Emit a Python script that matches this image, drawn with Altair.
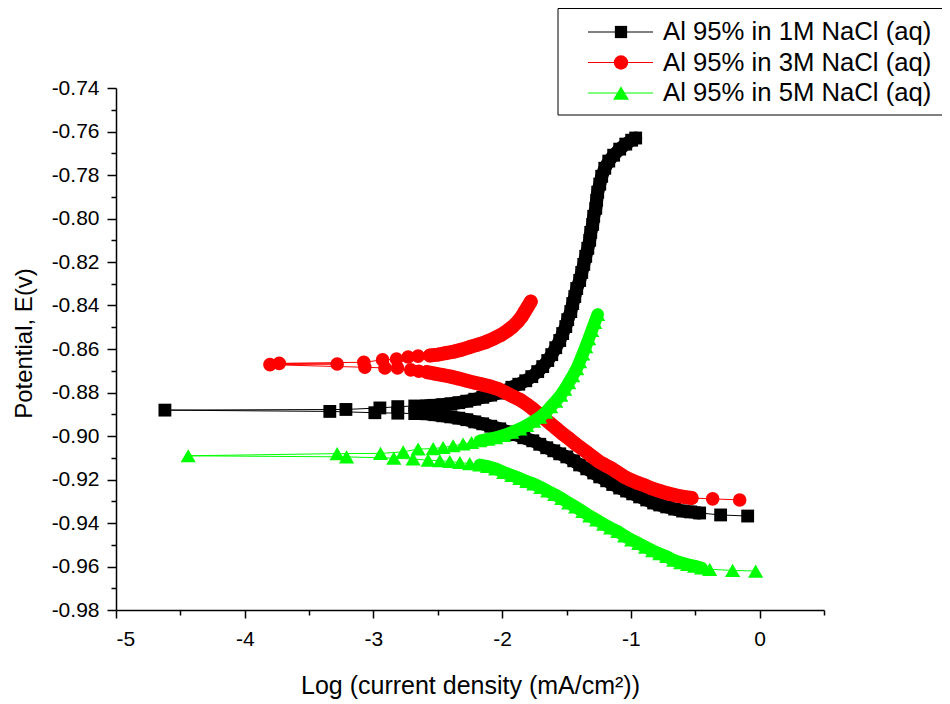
import altair as alt
import pandas as pd

# ---------------- data ----------------
series_names = ["Al 95% in 1M NaCl (aq)", "Al 95% in 3M NaCl (aq)", "Al 95% in 5M NaCl (aq)"]
series_colors = ["#000000", "#ff0000", "#00ff00"]
series_shapes = ["square", "circle", "triangle-up"]

# 1M NaCl : log current density (sweep order) and potential
logi_1M = [-0.093, -0.303, -0.466, -0.536, -0.598, -0.660, -0.722, -0.776, -0.823, -0.877,
           -0.932, -0.986, -1.033, -1.087, -1.141, -1.188, -1.242, -1.289, -1.343, -1.398,
           -1.444, -1.498, -1.553, -1.599, -1.654, -1.708, -1.762, -1.832, -1.894, -1.957,
           -2.019, -2.089, -2.151, -2.213, -2.275, -2.337, -2.399, -2.461, -2.523, -2.585,
           -2.679, -2.811, -2.989, -3.339, -4.620, -3.214, -2.950, -2.811, -2.679,
           -2.585, -2.523, -2.461, -2.399, -2.337, -2.275, -2.213, -2.151, -2.089, -2.034,
           -1.980, -1.925, -1.871, -1.817, -1.770, -1.724, -1.685, -1.646, -1.615, -1.584,
           -1.553, -1.530, -1.506, -1.491, -1.467, -1.452, -1.436, -1.421, -1.398, -1.382,
           -1.366, -1.351, -1.335, -1.320, -1.312, -1.297, -1.289, -1.273, -1.266, -1.258,
           -1.242, -1.227, -1.203, -1.172, -1.134, -1.087, -1.040, -0.994, -0.963]
E_1M = [-0.9368, -0.9363, -0.9354, -0.9349, -0.9345, -0.9336, -0.9326, -0.9317, -0.9308, -0.9294,
        -0.9280, -0.9266, -0.9253, -0.9239, -0.9223, -0.9206, -0.9188, -0.9170, -0.9151, -0.9133,
        -0.9114, -0.9096, -0.9082, -0.9068, -0.9054, -0.9038, -0.9022, -0.9008, -0.8994, -0.8981,
        -0.8967, -0.8955, -0.8944, -0.8935, -0.8925, -0.8918, -0.8912, -0.8907, -0.8902, -0.8898,
        -0.8897, -0.8895, -0.8893, -0.8887, -0.8881, -0.8878, -0.8871, -0.8865, -0.8862,
        -0.8861, -0.8859, -0.8856, -0.8852, -0.8847, -0.8840, -0.8831, -0.8822, -0.8812, -0.8803,
        -0.8792, -0.8776, -0.8762, -0.8746, -0.8727, -0.8704, -0.8681, -0.8653, -0.8626, -0.8594,
        -0.8561, -0.8529, -0.8497, -0.8465, -0.8428, -0.8391, -0.8359, -0.8322, -0.8285, -0.8248,
        -0.8211, -0.8174, -0.8137, -0.8100, -0.8064, -0.8027, -0.7990, -0.7953, -0.7916, -0.7879,
        -0.7842, -0.7806, -0.7769, -0.7736, -0.7709, -0.7681, -0.7658, -0.7640, -0.7630]

# 3M NaCl
logi_3M = [-0.155, -0.365, -0.528, -0.590, -0.652, -0.714, -0.776, -0.839, -0.893, -0.947,
           -1.002, -1.056, -1.110, -1.157, -1.203, -1.250, -1.297, -1.343, -1.390, -1.436,
           -1.483, -1.530, -1.576, -1.623, -1.669, -1.716, -1.762, -1.809, -1.863, -1.918,
           -1.972, -2.026, -2.089, -2.151, -2.213, -2.275, -2.337, -2.399, -2.461, -2.523,
           -2.585, -2.648, -2.710, -2.813, -2.911, -3.067, -3.804, -3.282, -3.732, -3.075,
           -2.929, -2.821, -2.731, -2.653, -2.562, -2.500, -2.438, -2.376, -2.314, -2.252,
           -2.189, -2.127, -2.065, -2.011, -1.964, -1.918, -1.879, -1.848, -1.825, -1.801,
           -1.778]
E_3M = [-0.9294, -0.9289, -0.9285, -0.9280, -0.9273, -0.9264, -0.9253, -0.9241, -0.9227, -0.9216,
        -0.9202, -0.9186, -0.9165, -0.9147, -0.9133, -0.9117, -0.9096, -0.9075, -0.9054, -0.9034,
        -0.9011, -0.8990, -0.8967, -0.8944, -0.8921, -0.8898, -0.8875, -0.8854, -0.8833, -0.8817,
        -0.8801, -0.8785, -0.8773, -0.8764, -0.8755, -0.8746, -0.8736, -0.8727, -0.8720, -0.8713,
        -0.8706, -0.8702, -0.8696, -0.8687, -0.8687, -0.8684, -0.8672, -0.8669, -0.8666, -0.8661,
        -0.8650, -0.8646, -0.8637, -0.8633, -0.8630, -0.8626, -0.8619, -0.8612, -0.8603, -0.8591,
        -0.8580, -0.8568, -0.8552, -0.8536, -0.8518, -0.8497, -0.8474, -0.8451, -0.8428, -0.8405,
        -0.8382]

# 5M NaCl
logi_5M = [-0.031, -0.210, -0.388, -0.450, -0.505, -0.559, -0.613, -0.668, -0.722, -0.776,
           -0.831, -0.885, -0.939, -0.994, -1.048, -1.102, -1.157, -1.211, -1.266, -1.320,
           -1.374, -1.429, -1.483, -1.537, -1.592, -1.646, -1.700, -1.755, -1.809, -1.863,
           -1.925, -1.988, -2.050, -2.112, -2.174, -2.252, -2.329, -2.407, -2.484, -2.575,
           -2.692, -2.842, -3.209, -4.439, -3.282, -2.945, -2.769, -2.653, -2.536, -2.459,
           -2.381, -2.304, -2.238, -2.174, -2.112, -2.050, -1.988, -1.925, -1.863, -1.809,
           -1.755, -1.708, -1.662, -1.623, -1.584, -1.545, -1.514, -1.483, -1.452, -1.421,
           -1.398, -1.374, -1.351, -1.328, -1.304, -1.281, -1.258]
E_5M = [-0.9621, -0.9618, -0.9613, -0.9607, -0.9598, -0.9591, -0.9582, -0.9571, -0.9554, -0.9541,
        -0.9527, -0.9511, -0.9494, -0.9478, -0.9460, -0.9439, -0.9423, -0.9405, -0.9386, -0.9368,
        -0.9347, -0.9326, -0.9308, -0.9287, -0.9269, -0.9253, -0.9236, -0.9220, -0.9209, -0.9195,
        -0.9181, -0.9167, -0.9151, -0.9140, -0.9133, -0.9127, -0.9122, -0.9117, -0.9114, -0.9111,
        -0.9106, -0.9102, -0.9096, -0.9091, -0.9081, -0.9080, -0.9073, -0.9060, -0.9058, -0.9053,
        -0.9045, -0.9037, -0.9030, -0.9022, -0.9015, -0.9008, -0.8997, -0.8983, -0.8967, -0.8951,
        -0.8932, -0.8914, -0.8891, -0.8865, -0.8840, -0.8812, -0.8785, -0.8755, -0.8723, -0.8690,
        -0.8658, -0.8623, -0.8589, -0.8552, -0.8515, -0.8478, -0.8441]

# axis tick positions (major + minor)
x_tick_values = [-5, -4.5, -4, -3.5, -3, -2.5, -2, -1.5, -1, -0.5, 0, 0.5]
y_tick_values = [-0.98, -0.97, -0.96, -0.95, -0.94, -0.93, -0.92, -0.91, -0.90, -0.89,
                 -0.88, -0.87, -0.86, -0.85, -0.84, -0.83, -0.82, -0.81, -0.80, -0.79,
                 -0.78, -0.77, -0.76, -0.75, -0.74]

series_logi = [logi_1M, logi_3M, logi_5M]
series_E = [E_1M, E_3M, E_5M]

# ---------------- chart ----------------
FONT = "Liberation Sans"
x_major = "abs(datum.value - round(datum.value)) < 0.01"
y_major = "abs(datum.value * 50 - round(datum.value * 50)) < 0.01"

x_axis = alt.Axis(
    values=x_tick_values,
    title="Log (current density (mA/cm²))",
    labelExpr=f"{x_major} ? (datum.value < 0 ? '-' + format(-datum.value, 'd') : format(datum.value, 'd')) : ''",
    tickSize={"condition": {"test": x_major, "value": 8}, "value": 5},
    labelPadding=10,
    titleY=75, titleBaseline="middle",
    grid=False,
)
y_axis = alt.Axis(
    values=y_tick_values,
    title="Potential, E(v)",
    labelExpr=f"{y_major} ? '-' + format(-datum.value, '.2f') : ''",
    tickSize={"condition": {"test": y_major, "value": 9}, "value": 5},
    labelPadding=8,
    titleX=-92, titleY=255, titleAngle=-90, titleBaseline="middle", titleAlign="center",
    titleFontSize=24,
    grid=False,
)
x_scale = alt.Scale(domain=[-5, 0.5], nice=False, zero=False)
y_scale = alt.Scale(domain=[-0.98, -0.74], nice=False, zero=False)

# rendering settings: marker area, and the stretches (point index ranges) where the
# measured points are so close together that the symbols merge into a solid band
marker_sizes = [165, 185, 230]
band_widths = [13, 14, 12.5]
band_ranges = [[(2, 39), (49, 97)], [(2, 40), (54, 70)], [(3, 34), (53, 76)]]

layers = []
for name, col, shp, lx, ey, msz, bw, rngs in zip(series_names, series_colors, series_shapes,
                                                 series_logi, series_E, marker_sizes,
                                                 band_widths, band_ranges):
    df = pd.DataFrame({"logi": lx, "E": ey, "idx": list(range(len(lx))), "series": name})
    base = alt.Chart(df)
    enc = dict(
        x=alt.X("logi:Q", scale=x_scale, axis=x_axis),
        y=alt.Y("E:Q", scale=y_scale, axis=y_axis),
    )
    layers.append(base.mark_line(color=col, strokeWidth=1).encode(order="idx:Q", **enc))
    for a, b in rngs:
        layers.append(
            base.transform_filter(f"datum.idx >= {a} && datum.idx <= {b}")
            .mark_line(color=col, strokeWidth=bw, strokeCap="round", strokeJoin="round")
            .encode(order="idx:Q", **enc)
        )
    layers.append(base.mark_point(shape=shp, filled=True, color=col, size=msz,
                                  opacity=1, strokeWidth=0).encode(**enc))

# legend (drawn by hand, like the Origin legend box whose right side is cut off)
box = pd.DataFrame({"k": [0]})
box_l, box_r, box_t, box_b = 442, 860, -79.5, 27
layers.append(alt.Chart(box).mark_rule(color="black", strokeWidth=1)
              .encode(x=alt.value(box_l), x2=alt.value(box_r), y=alt.value(box_t)))
layers.append(alt.Chart(box).mark_rule(color="black", strokeWidth=1)
              .encode(x=alt.value(box_l), x2=alt.value(box_r), y=alt.value(box_b)))
layers.append(alt.Chart(box).mark_rule(color="black", strokeWidth=1)
              .encode(x=alt.value(box_l), y=alt.value(box_t), y2=alt.value(box_b)))

legend_sizes = [150, 210, 250]
for i, (name, col, shp, lsz) in enumerate(zip(series_names, series_colors, series_shapes, legend_sizes)):
    yy = -56 + i * 30.5
    ldf = pd.DataFrame({"label": [name]})
    layers.append(alt.Chart(ldf).mark_rule(color=col, strokeWidth=1)
                  .encode(x=alt.value(472), x2=alt.value(537), y=alt.value(yy)))
    layers.append(alt.Chart(ldf).mark_point(shape=shp, filled=True, color=col, size=lsz,
                                            opacity=1, strokeWidth=0)
                  .encode(x=alt.value(505), y=alt.value(yy)))
    layers.append(alt.Chart(ldf).mark_text(align="left", baseline="middle", font=FONT,
                                           fontSize=25.7, color="black")
                  .encode(x=alt.value(547), y=alt.value(yy), text="label:N"))

chart = (
    alt.layer(*layers)
    .properties(width=708, height=522,
                autosize=alt.AutoSizeParams(type="none"),
                padding={"left": 108, "top": 80, "right": 118, "bottom": 90},
                background="white")
    .configure_view(stroke=None)
    .configure_axis(
        domainColor="black", domainWidth=1.5, tickColor="black", tickWidth=1.5,
        labelFont=FONT, labelFontSize=21, labelColor="black",
        titleFont=FONT, titleFontSize=25, titleColor="black", titleFontWeight="normal",
    )
)

chart.save("out.html", embed_options={"renderer": "svg", "actions": False})
